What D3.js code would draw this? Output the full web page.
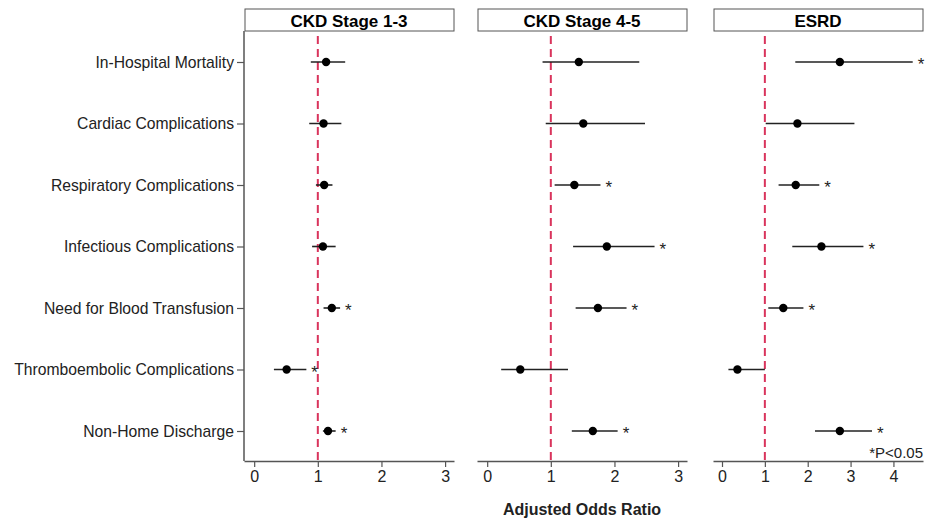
<!DOCTYPE html>
<html>
<head>
<meta charset="utf-8">
<script src="https://cdn.jsdelivr.net/npm/d3@7"></script>
<style>
  body { margin: 0; background: #fff; }
  svg text { font-family: "Liberation Sans", Arial, sans-serif; }
</style>
</head>
<body>
<svg id="chart" width="933" height="520"></svg>
<script>
const outcomes = [
  'In-Hospital Mortality',
  'Cardiac Complications',
  'Respiratory Complications',
  'Infectious Complications',
  'Need for Blood Transfusion',
  'Thromboembolic Complications',
  'Non-Home Discharge'
];

const panels = ['CKD Stage 1-3', 'CKD Stage 4-5', 'ESRD'];
const xDomains = [[-0.16, 3.14], [-0.16, 3.14], [-0.21, 4.69]];
const xTicks = [[0, 1, 2, 3], [0, 1, 2, 3], [0, 1, 2, 3, 4]];

// odds ratio, lower CI, upper CI, significant
const stage13Or = [1.13, 1.09, 1.10, 1.08, 1.22, 0.51, 1.16];
const stage13Lo = [0.89, 0.865, 0.97, 0.91, 1.09, 0.31, 1.08];
const stage13Hi = [1.43, 1.37, 1.23, 1.28, 1.35, 0.82, 1.28];
const stage13Sig = [false, false, false, false, true, true, true];

const stage45Or = [1.44, 1.51, 1.37, 1.88, 1.74, 0.52, 1.66];
const stage45Lo = [0.87, 0.92, 1.06, 1.35, 1.39, 0.22, 1.33];
const stage45Hi = [2.39, 2.48, 1.78, 2.63, 2.19, 1.27, 2.05];
const stage45Sig = [false, false, true, true, true, false, true];

const esrdOr = [2.75, 1.76, 1.72, 2.32, 1.43, 0.36, 2.75];
const esrdLo = [1.71, 1.02, 1.32, 1.64, 1.08, 0.15, 2.17];
const esrdHi = [4.45, 3.09, 2.27, 3.30, 1.90, 1.00, 3.50];
const esrdSig = [true, false, true, true, true, false, true];

const panelData = [
  [stage13Or, stage13Lo, stage13Hi, stage13Sig],
  [stage45Or, stage45Lo, stage45Hi, stage45Sig],
  [esrdOr, esrdLo, esrdHi, esrdSig]
];

const svg = d3.select('#chart');
const panelLeft = [244, 477, 713];
const panelW = 210;
const plotTop = 31, plotBottom = 461;

const y = d3.scalePoint()
  .domain(outcomes)
  .range([62, 431]);

const axisColor = '#555';

panels.forEach((title, p) => {
  const g = svg.append('g').attr('transform', 'translate(' + panelLeft[p] + ',0)');
  const x = d3.scaleLinear().domain(xDomains[p]).range([0, panelW]);

  // header strip
  g.append('rect')
    .attr('x', 1).attr('y', 9)
    .attr('width', panelW - 1).attr('height', 22)
    .attr('fill', '#fff').attr('stroke', '#555').attr('stroke-width', 1);
  g.append('text')
    .attr('x', panelW / 2).attr('y', 26.5)
    .attr('text-anchor', 'middle')
    .style('font-size', '17px').style('font-weight', 'bold')
    .text(title);

  // x axis
  const xAxis = g.append('g')
    .attr('transform', 'translate(0,' + plotBottom + ')')
    .call(d3.axisBottom(x).tickValues(xTicks[p]).tickFormat(d3.format('d'))
      .tickSize(6).tickPadding(4).tickSizeOuter(0));
  xAxis.select('.domain').attr('stroke', axisColor).attr('stroke-width', 1.5);
  xAxis.selectAll('.tick line').attr('stroke', axisColor).attr('stroke-width', 1.2);
  xAxis.selectAll('.tick text')
    .style('font-size', '16px').attr('fill', '#222')
    .style('font-family', '"Liberation Sans", Arial, sans-serif');

  // y axis on first panel
  if (p === 0) {
    const yAxis = g.append('g')
      .call(d3.axisLeft(y).tickSize(7).tickPadding(3).tickSizeOuter(0));
    yAxis.select('.domain').attr('d', 'M0,' + plotTop + 'V' + plotBottom)
      .attr('stroke', axisColor).attr('stroke-width', 1.5);
    yAxis.selectAll('.tick line').attr('stroke', axisColor).attr('stroke-width', 1.2);
    yAxis.selectAll('.tick text')
      .style('font-size', '15.7px').attr('fill', '#222')
      .style('font-family', '"Liberation Sans", Arial, sans-serif');
  }

  // reference line at OR = 1
  g.append('line')
    .attr('x1', x(1)).attr('x2', x(1))
    .attr('y1', 36).attr('y2', plotBottom)
    .attr('stroke', '#d9345c').attr('stroke-width', 2)
    .attr('stroke-dasharray', '8,5');

  const [or, lo, hi, sig] = panelData[p];
  const rows = outcomes.map((o, i) => ({o, or: or[i], lo: lo[i], hi: hi[i], sig: sig[i]}));

  g.selectAll('.ci')
    .data(rows)
    .enter()
    .append('line')
    .attr('class', 'ci')
    .attr('x1', d => x(d.lo)).attr('x2', d => x(d.hi))
    .attr('y1', d => y(d.o)).attr('y2', d => y(d.o))
    .attr('stroke', '#222').attr('stroke-width', 1.6);

  g.selectAll('.pt')
    .data(rows)
    .enter()
    .append('circle')
    .attr('class', 'pt')
    .attr('cx', d => x(d.or)).attr('cy', d => y(d.o))
    .attr('r', 4.2)
    .attr('fill', '#000');

  g.selectAll('.star')
    .data(rows.filter(d => d.sig))
    .enter()
    .append('text')
    .attr('class', 'star')
    .attr('x', d => x(d.hi) + 5).attr('y', d => y(d.o) + 8)
    .style('font-size', '17px').attr('fill', '#222')
    .text('*');

  if (p === 2) {
    g.append('text')
      .attr('x', panelW).attr('y', plotBottom - 3)
      .attr('text-anchor', 'end')
      .style('font-size', '15px').attr('fill', '#222')
      .text('*P<0.05');
  }
});

svg.append('text')
  .attr('x', 582).attr('y', 515)
  .attr('text-anchor', 'middle')
  .style('font-size', '16px').style('font-weight', 'bold')
  .attr('fill', '#222')
  .text('Adjusted Odds Ratio');
</script>
</body>
</html>
